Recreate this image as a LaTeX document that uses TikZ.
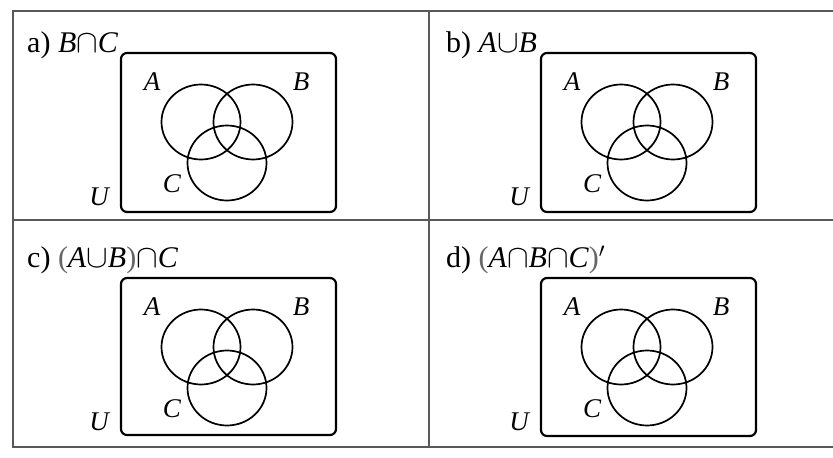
\documentclass[tikz,border=0pt]{standalone}
\usepackage{fontspec}
\usepackage{graphicx}
\setmainfont{Liberation Serif}
\newcommand\mycap{\scalebox{1.3}{$\cap$}}
\newcommand\mycup{\scalebox{1.3}{$\cup$}}
\newcommand\venndiag[4]{%
  \begin{scope}[shift={(#1,#2)}]
    \draw[ubox] (0,0) rectangle (215,#3);
    \draw[setc] (80,69) ellipse [x radius=39.5,y radius=37.5];
    \draw[setc] (132,69) ellipse [x radius=39.5,y radius=37.5];
    \draw[setc] (106,110) ellipse [x radius=39.5,y radius=37.5];
    \node[lab] (#4A) at (31,28.5) {A};
    \node[lab] (#4B) at (180,29) {B};
    \node[lab] (#4C) at (51,131) {C};
    \node[lab] (#4U) at (-22,144) {U};
  \end{scope}}
\begin{document}
\begin{tikzpicture}[x=1pt,y=-1pt,
  grid/.style={draw=black!65,line width=1.2pt},
  ubox/.style={draw=black,line width=2.2pt,rounded corners=6pt},
  setc/.style={draw=black,line width=1.7pt},
  lab/.style={font=\fontsize{27}{27}\selectfont\itshape,inner sep=0pt},
  ttl/.style={font=\fontsize{30}{30}\selectfont,inner sep=0pt,anchor=base west}]
\useasboundingbox (0,0) rectangle (833,458);
\fill[white] (0,0) rectangle (833,458);
\draw[grid] (833,11) -- (13,11) -- (13,447) -- (833,447);
\draw[grid] (13,220) -- (833,220);
\draw[grid] (429,11) -- (429,447);
\node[ttl] (ta) at (27,52) {a) \textit{B}\mycap\textit{C}};
\node[ttl] (tb) at (446,52) {b) \textit{A}\mycup\textit{B}};
\node[ttl] (tc) at (27,267) {c) {\color{black!60}(}\textit{A}\mycup\textit{B}{\color{black!60})}\mycap\textit{C}};
\node[ttl] (td) at (446,267) {d) {\color{black!60}(}\textit{A}\mycap\textit{B}\mycap\textit{C}{\color{black!60})}$'$};
\venndiag{121}{53}{159}{a}
\venndiag{541}{53}{159}{b}
\venndiag{121}{278}{157}{c}
\venndiag{541}{278}{158}{d}
\end{tikzpicture}
\end{document}
